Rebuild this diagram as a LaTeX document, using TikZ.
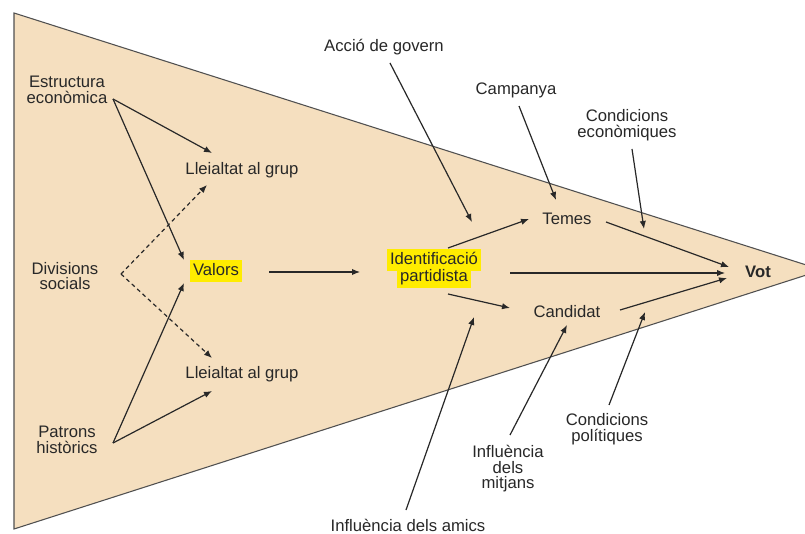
\documentclass[tikz,border=0pt]{standalone}
\usepackage{fontspec}
\setmainfont{Liberation Sans}
\usetikzlibrary{arrows.meta}
\definecolor{tanfill}{RGB}{245,223,191}
\definecolor{edgegray}{RGB}{80,80,80}
\definecolor{txt}{RGB}{40,40,40}
\definecolor{hl}{RGB}{255,236,0}
\tikzset{
  lbl/.style={font=\fontsize{12.5}{11.6}\selectfont, text=txt, align=center, inner sep=0pt},
  hlbox/.style={lbl, fill=hl, inner xsep=2.2pt, inner ysep=1.6pt, text height=10pt, text depth=3.6pt},
  arr/.style={draw=txt, line width=0.9pt, -{Latex[length=6pt,width=4.8pt]}},
  darr/.style={arr, dash pattern=on 3pt off 2.5pt}
}
\begin{document}
\begin{tikzpicture}[x=0.75pt,y=-0.75pt]
\useasboundingbox (0,0) rectangle (805,534);
\fill[white] (0,0) rectangle (805,534);
\begin{scope}
  \clip (0,0) rectangle (805,534);
  \filldraw[fill=tanfill, draw=edgegray, line width=0.8pt] (14,13) -- (822,270) -- (14,529) -- cycle;
\end{scope}

% nodes
\node[lbl] (estr) at (67,90) {Estructura\\econòmica};
\node[lbl] (ll1) at (242,170) {Lleialtat al grup};
\node[lbl] (div) at (65,276) {Divisions\\socials};
\node[hlbox] (val) at (216,271) {Valors};
\node[lbl] (ll2) at (242,374) {Lleialtat al grup};
\node[lbl] (pat) at (67,440) {Patrons\\històrics};
\node[hlbox] (id1) at (434,260) {Identificació};
\node[hlbox] (id2) at (434,277) {partidista};
\node[lbl] (tem) at (567,219) {Temes};
\node[lbl] (cand) at (567,312) {Candidat};
\node[lbl, font=\fontsize{12.5}{11.6}\selectfont\bfseries] (vot) at (758,272) {Vot};
\node[lbl] (acc) at (384,47) {Acció de govern};
\node[lbl] (camp) at (516,90) {Campanya};
\node[lbl] (cec) at (627,125) {Condicions\\econòmiques};
\node[lbl] (cpol) at (607,429) {Condicions\\polítiques};
\node[lbl] (imit) at (508,469) {Influència\\dels\\mitjans};
\node[lbl] (iam) at (408,525) {Influència dels amics};

% connector end points
\coordinate (estrO) at (113,99);
\coordinate (ll1A) at (212,153);
\coordinate (valA) at (184,260);
\coordinate (divO) at (121,274);
\coordinate (ll1B) at (207,185);
\coordinate (ll2A) at (212,358);
\coordinate (patO) at (113,443);
\coordinate (valB) at (184,283);
\coordinate (ll2B) at (212,391);
\coordinate (valO) at (269,272);
\coordinate (idIn) at (360,272);
\coordinate (idT) at (448,248);
\coordinate (temIn) at (529,219);
\coordinate (idV) at (510,273);
\coordinate (votA) at (725,273);
\coordinate (idC) at (448,294);
\coordinate (candIn) at (510,308);
\coordinate (temO) at (606,222);
\coordinate (votB) at (729,267);
\coordinate (candO) at (620,310);
\coordinate (votC) at (727,278);
\coordinate (accO) at (390,63);
\coordinate (accT) at (472,222);
\coordinate (campO) at (519,106);
\coordinate (campT) at (556,200);
\coordinate (cecO) at (632,149);
\coordinate (cecT) at (644,229);
\coordinate (cpolO) at (609,405);
\coordinate (cpolT) at (645,312);
\coordinate (imitO) at (510,435);
\coordinate (imitT) at (567,325);
\coordinate (iamO) at (406,510);
\coordinate (iamT) at (474,317);

% connectors
\draw[arr] (estrO) -- (ll1A);
\draw[arr] (estrO) -- (valA);
\draw[darr] (divO) -- (ll1B);
\draw[darr] (divO) -- (ll2A);
\draw[arr] (patO) -- (valB);
\draw[arr] (patO) -- (ll2B);
\draw[arr] (valO) -- (idIn);
\draw[arr] (idT) -- (temIn);
\draw[arr] (idV) -- (votA);
\draw[arr] (idC) -- (candIn);
\draw[arr] (temO) -- (votB);
\draw[arr] (candO) -- (votC);
\draw[arr] (accO) -- (accT);
\draw[arr] (campO) -- (campT);
\draw[arr] (cecO) -- (cecT);
\draw[arr] (cpolO) -- (cpolT);
\draw[arr] (imitO) -- (imitT);
\draw[arr] (iamO) -- (iamT);
\end{tikzpicture}
\end{document}
